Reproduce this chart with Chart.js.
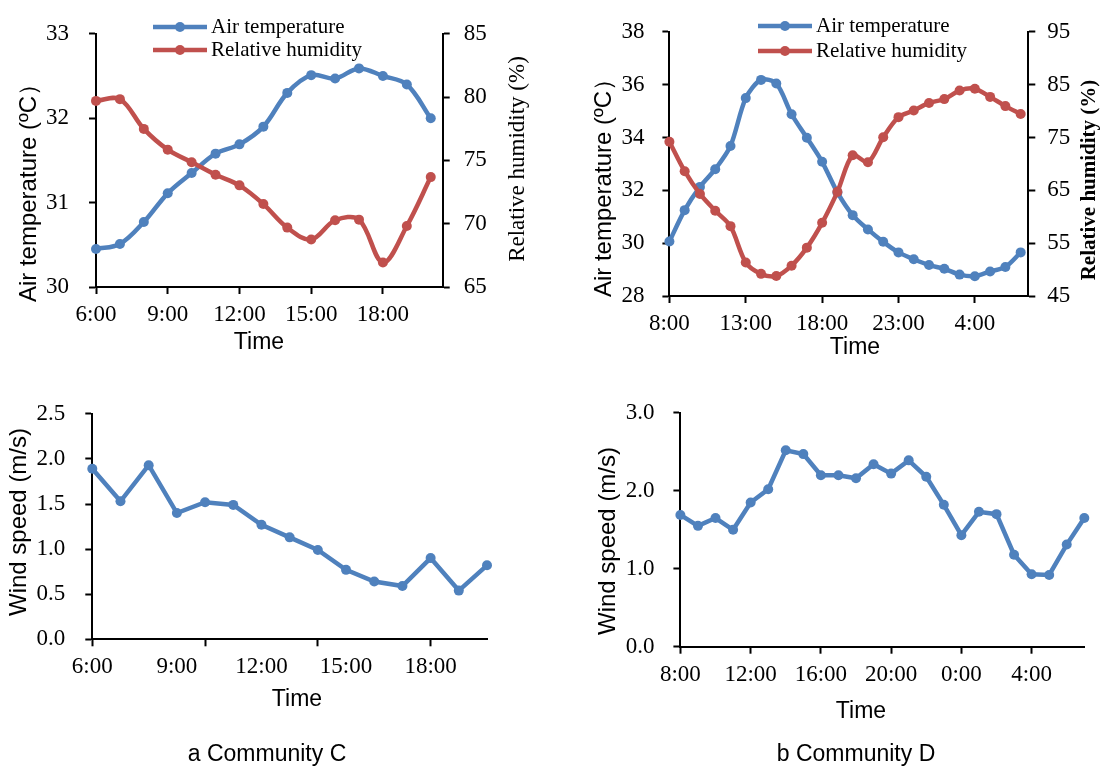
<!DOCTYPE html>
<html>
<head>
<meta charset="utf-8">
<script src="https://cdn.jsdelivr.net/npm/chart.js@4.4.0/dist/chart.umd.min.js"></script>
<style>
  html, body { margin: 0; padding: 0; background: #fff; }
  #wrap { position: relative; width: 1102px; height: 767px; overflow: hidden; }
  canvas { position: absolute; }
</style>
</head>
<body>
<div id="wrap">
  <canvas id="tempHumC" width="551" height="380" style="left:0;top:0"></canvas>
  <canvas id="tempHumD" width="552" height="380" style="left:550px;top:0"></canvas>
  <canvas id="windC" width="551" height="387" style="left:0;top:380px"></canvas>
  <canvas id="windD" width="552" height="387" style="left:550px;top:380px"></canvas>
</div>
<script>
// Community C, hourly 6:00 - 20:00
const hoursC = ['6:00', '7:00', '8:00', '9:00', '10:00', '11:00', '12:00', '13:00',
  '14:00', '15:00', '16:00', '17:00', '18:00', '19:00', '20:00'];
const tempC = [30.45, 30.51, 30.77, 31.11, 31.35, 31.58, 31.69, 31.90, 32.30, 32.51, 32.47, 32.59, 32.50, 32.40, 32.00];
const humC = [79.7, 79.84, 77.49, 75.85, 74.86, 73.87, 73.03, 71.55, 69.69, 68.75, 70.27, 70.32, 66.93, 69.82, 73.68];
const windC = [1.89, 1.53, 1.93, 1.40, 1.52, 1.49, 1.27, 1.13, 0.99, 0.77, 0.64, 0.59, 0.90, 0.54, 0.82];

// Community D, hourly 8:00 - 7:00 next day
const hoursD = ['8:00', '9:00', '10:00', '11:00', '12:00', '13:00', '14:00', '15:00', '16:00', '17:00',
  '18:00', '19:00', '20:00', '21:00', '22:00', '23:00', '0:00', '1:00', '2:00', '3:00', '4:00', '5:00', '6:00', '7:00'];
const tempD = [30.06, 31.25, 32.13, 32.80, 33.68, 35.49, 36.18, 36.04, 34.88, 33.99, 33.08, 31.92,
  31.06, 30.52, 30.05, 29.65, 29.39, 29.17, 29.03, 28.81, 28.75, 28.93, 29.10, 29.65];
const humD = [74.19, 68.62, 64.32, 61.15, 58.22, 51.34, 49.19, 48.77, 50.74, 54.15, 58.85, 64.71,
  71.65, 70.32, 75.05, 78.85, 80.11, 81.54, 82.26, 83.88, 84.23, 82.68, 80.94, 79.45];
const windD = [1.69, 1.55, 1.65, 1.50, 1.85, 2.02, 2.52, 2.47, 2.20, 2.20, 2.16, 2.34,
  2.22, 2.39, 2.18, 1.82, 1.43, 1.73, 1.70, 1.18, 0.93, 0.92, 1.31, 1.65];

const BLUE = '#4F81BD';
const RED = '#C0504D';
const SERIF = '"Liberation Serif", "Times New Roman", serif';
const SANS = '"Liberation Sans", Arial, sans-serif';

const points = (vals) => vals.map((v, i) => ({ x: i, y: v }));

function series(vals, color, axis, tension, order) {
  return {
    data: points(vals),
    borderColor: color,
    backgroundColor: color,
    borderWidth: 4.5,
    pointRadius: 5,
    pointHoverRadius: 5,
    pointBorderWidth: 0,
    tension: tension,
    yAxisID: axis,
    order: order,
    clip: false
  };
}

function yAxis(position, min, max, step, width, pad, digits) {
  return {
    type: 'linear',
    position: position,
    min: min,
    max: max,
    afterFit: (s) => { s.width = width; },
    grid: { drawOnChartArea: false, tickLength: 7, tickColor: '#000', tickWidth: 2 },
    border: { color: '#000', width: 2 },
    ticks: {
      stepSize: step,
      padding: pad,
      color: '#000',
      font: { family: SERIF, size: 23 },
      callback: (v) => v.toFixed(digits)
    }
  };
}

function xAxis(labels, max, labelStep, markStep, height) {
  return {
    type: 'linear',
    min: 0,
    max: max,
    afterFit: (s) => { s.height = height; },
    afterBuildTicks: (s) => {
      s.ticks = labels.map((_, i) => ({ value: i }))
        .filter((t) => t.value % labelStep === 0 || t.value % markStep === 0);
    },
    grid: {
      drawOnChartArea: false,
      tickLength: 7,
      tickWidth: 2,
      tickColor: (c) => (c.tick && c.tick.value % markStep === 0 ? '#000' : 'rgba(0,0,0,0)')
    },
    border: { color: '#000', width: 2 },
    ticks: {
      autoSkip: false,
      maxRotation: 0,
      padding: 7,
      color: '#000',
      font: { family: SERIF, size: 23 },
      callback: (v) => (v % labelStep === 0 ? labels[v] : '')
    }
  };
}

// titles, captions and the small legend drawn on top of each chart
function textLayer(items, legend) {
  return {
    id: 'textLayer',
    afterDraw(chart) {
      const ctx = chart.ctx;
      items.forEach((it) => {
        ctx.save();
        ctx.translate(it.x, it.y);
        if (it.rotate) ctx.rotate(it.rotate);
        ctx.font = it.font;
        ctx.fillStyle = '#000';
        ctx.textAlign = 'center';
        ctx.textBaseline = 'middle';
        ctx.fillText(it.text, 0, 0);
        ctx.restore();
      });
      if (!legend) return;
      legend.rows.forEach((row) => {
        ctx.save();
        ctx.strokeStyle = row.color;
        ctx.fillStyle = row.color;
        ctx.lineWidth = 4.5;
        ctx.beginPath();
        ctx.moveTo(legend.x1, row.y);
        ctx.lineTo(legend.x2, row.y);
        ctx.stroke();
        ctx.beginPath();
        ctx.arc((legend.x1 + legend.x2) / 2, row.y, 5, 0, Math.PI * 2);
        ctx.fill();
        ctx.fillStyle = '#000';
        ctx.font = '21px ' + SERIF;
        ctx.textAlign = 'left';
        ctx.textBaseline = 'middle';
        ctx.fillText(row.label, legend.tx, row.y);
        ctx.restore();
      });
    }
  };
}

const baseOptions = (scales, padding) => ({
  responsive: false,
  animation: false,
  events: [],
  layout: { padding: padding },
  plugins: { legend: { display: false }, tooltip: { enabled: false } },
  scales: scales
});

const UP = -Math.PI / 2;

new Chart(document.getElementById('tempHumC'), {
  type: 'line',
  data: {
    datasets: [
      series(tempC, BLUE, 'y', 0.35, 1),
      series(humC, RED, 'y1', 0.35, 0)
    ]
  },
  options: baseOptions({
    x: xAxis(hoursC, 14.5, 3, 3, 93),
    y: yAxis('left', 30, 33, 1, 96, 20, 0),
    y1: yAxis('right', 65, 85, 5, 108.3, 14, 0)
  }, { top: 30.7, left: 0, right: 0, bottom: 0 }),
  plugins: [textLayer([
    { text: 'Air temperature (ºC）', x: 29, y: 187, rotate: UP, font: '24px ' + SANS },
    { text: 'Relative humidity (%)', x: 518, y: 159, rotate: UP, font: '23px ' + SERIF },
    { text: 'Time', x: 259, y: 343, font: '23px ' + SANS }
  ], {
    x1: 153, x2: 207, tx: 211,
    rows: [
      { label: 'Air temperature', color: BLUE, y: 27 },
      { label: 'Relative humidity', color: RED, y: 50 }
    ]
  })]
});

new Chart(document.getElementById('tempHumD'), {
  type: 'line',
  data: {
    datasets: [
      series(tempD, BLUE, 'y', 0.3, 1),
      series(humD, RED, 'y1', 0.3, 0)
    ]
  },
  options: baseOptions({
    x: xAxis(hoursD, 23.5, 5, 5, 84),
    y: yAxis('left', 28, 38, 2, 119.4, 18, 0),
    y1: yAxis('right', 45, 95, 10, 73.7, 12, 0)
  }, { top: 17.3, left: 0, right: 0, bottom: 0 }),
  plugins: [textLayer([
    { text: 'Air temperature (ºC）', x: 54, y: 182, rotate: UP, font: '24px ' + SANS },
    { text: 'Relative humidity (%)', x: 540, y: 180, rotate: UP, font: 'bold 21px ' + SERIF },
    { text: 'Time', x: 305, y: 348, font: '23px ' + SANS }
  ], {
    x1: 208, x2: 262, tx: 266,
    rows: [
      { label: 'Air temperature', color: BLUE, y: 26 },
      { label: 'Relative humidity', color: RED, y: 51 }
    ]
  })]
});

new Chart(document.getElementById('windC'), {
  type: 'line',
  data: { datasets: [series(windC, BLUE, 'y', 0, 0)] },
  options: baseOptions({
    x: xAxis(hoursC, 14, 3, 4, 127.7),
    y: yAxis('left', 0, 2.5, 0.5, 92.3, 20, 1)
  }, { top: 24.3, left: 0, right: 64, bottom: 0 }),
  plugins: [textLayer([
    { text: 'Wind speed (m/s)', x: 19, y: 142, rotate: UP, font: '24px ' + SANS },
    { text: 'Time', x: 297, y: 320, font: '23px ' + SANS },
    { text: 'a Community C', x: 267, y: 375, font: '23px ' + SANS }
  ])]
});

new Chart(document.getElementById('windD'), {
  type: 'line',
  data: { datasets: [series(windD, BLUE, 'y', 0, 0)] },
  options: baseOptions({
    x: xAxis(hoursD, 23, 4, 4, 120.3),
    y: yAxis('left', 0, 3, 1, 130.4, 19, 1)
  }, { top: 24.3, left: 0, right: 17.7, bottom: 0 }),
  plugins: [textLayer([
    { text: 'Wind speed (m/s)', x: 58, y: 161, rotate: UP, font: '24px ' + SANS },
    { text: 'Time', x: 311, y: 332, font: '23px ' + SANS },
    { text: 'b Community D', x: 306, y: 375, font: '23px ' + SANS }
  ])]
});
</script>
</body>
</html>
